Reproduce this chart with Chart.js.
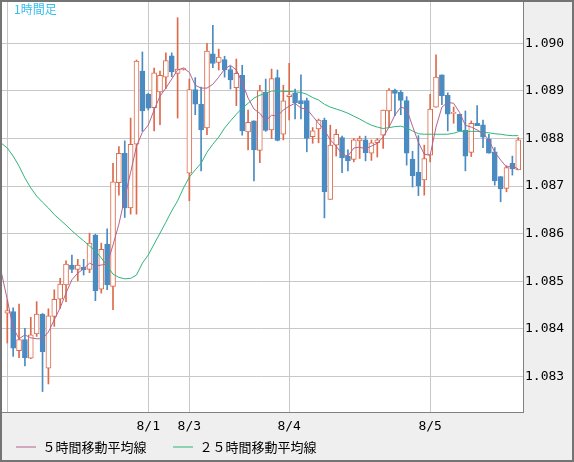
<!DOCTYPE html>
<html><head><meta charset="utf-8">
<script src="https://cdn.jsdelivr.net/npm/chart.js@4"></script>
<style>html,body{margin:0;padding:0;background:#efefef;}canvas{display:block;}</style>
</head><body>
<canvas id="c" width="574" height="462"></canvas>
<script>
const chartTitle = '1時間足';
const seriesNames = ['５時間移動平均線', '２５時間移動平均線'];
const dateTickIndex = [0, 24, 31, 48, 72];
const dateTickLabels = ['', '8/1', '8/3', '8/4', '8/5'];
const priceTicks = [1.083, 1.084, 1.085, 1.086, 1.087, 1.088, 1.089, 1.090];

const opens = [
1.08433,1.08436,1.08354,1.08377,1.08338,1.08389,1.08431,1.08317,1.08426,1.08462,
1.08492,1.08534,1.08525,1.08529,1.08525,1.08597,1.08483,1.08578,1.08489,1.08707,
1.08769,1.08654,1.08788,1.08942,1.08893,1.08865,1.08898,1.08929,1.08974,1.08937,
1.08946,1.08727,1.08903,1.08872,1.08822,1.08978,1.08960,1.08966,1.08945,1.08907,
1.08933,1.08814,1.08837,1.08775,1.08897,1.08818,1.08928,1.08809,1.08888,1.08895,
1.08880,1.08880,1.08804,1.08820,1.08839,1.08672,1.08786,1.08802,1.08763,1.08756,
1.08795,1.08797,1.08769,1.08791,1.08807,1.08858,1.08902,1.08897,1.08880,1.08757,
1.08729,1.08713,1.08765,1.08866,1.08934,1.08891,1.08853,1.08851,1.08817,1.08771,
1.08832,1.08829,1.08799,1.08772,1.08720,1.08695,1.08748,1.08734];
const highs = [
1.08461,1.08444,1.08452,1.08401,1.08424,1.08457,1.08432,1.08442,1.08482,1.08506,
1.08543,1.08555,1.08546,1.08546,1.08601,1.08599,1.08580,1.08610,1.08748,1.08783,
1.08795,1.08843,1.08965,1.08982,1.08895,1.08948,1.08942,1.08980,1.08980,1.09054,
1.08948,1.08925,1.08928,1.08908,1.09000,1.09038,1.08988,1.08973,1.08952,1.08967,
1.08954,1.08860,1.08837,1.08912,1.08925,1.08946,1.08944,1.08912,1.08958,1.08904,
1.08934,1.08885,1.08823,1.08841,1.08843,1.08828,1.08819,1.08805,1.08776,1.08800,
1.08805,1.08805,1.08797,1.08800,1.08860,1.08905,1.08904,1.08901,1.08888,1.08773,
1.08806,1.08786,1.08893,1.08976,1.08934,1.08896,1.08866,1.08851,1.08858,1.08837,
1.08869,1.08839,1.08809,1.08781,1.08720,1.08743,1.08763,1.08802];
const lows = [
1.08370,1.08342,1.08339,1.08322,1.08337,1.08384,1.08268,1.08284,1.08405,1.08443,
1.08457,1.08518,1.08501,1.08513,1.08518,1.08459,1.08475,1.08482,1.08440,1.08681,
1.08634,1.08641,1.08641,1.08815,1.08860,1.08816,1.08829,1.08905,1.08930,1.08843,
1.08944,1.08669,1.08850,1.08732,1.08808,1.08949,1.08944,1.08929,1.08904,1.08869,
1.08807,1.08776,1.08711,1.08749,1.08815,1.08800,1.08795,1.08797,1.08839,1.08841,
1.08841,1.08772,1.08790,1.08791,1.08633,1.08672,1.08763,1.08728,1.08732,1.08751,
1.08758,1.08753,1.08754,1.08761,1.08779,1.08825,1.08848,1.08850,1.08744,1.08698,
1.08680,1.08681,1.08751,1.08866,1.08871,1.08816,1.08832,1.08816,1.08732,1.08762,
1.08827,1.08781,1.08769,1.08702,1.08667,1.08688,1.08723,1.08734];
const closes = [
1.08438,1.08359,1.08377,1.08339,1.08387,1.08431,1.08352,1.08427,1.08462,1.08494,
1.08536,1.08525,1.08534,1.08524,1.08580,1.08480,1.08567,1.08492,1.08709,1.08769,
1.08654,1.08788,1.08963,1.08858,1.08864,1.08938,1.08933,1.08964,1.08940,1.08946,
1.08948,1.08903,1.08872,1.08818,1.08984,1.08958,1.08971,1.08944,1.08923,1.08937,
1.08816,1.08834,1.08776,1.08901,1.08817,1.08926,1.08796,1.08879,1.08892,1.08875,
1.08873,1.08800,1.08816,1.08839,1.08688,1.08786,1.08809,1.08759,1.08753,1.08797,
1.08800,1.08770,1.08791,1.08797,1.08860,1.08902,1.08895,1.08880,1.08769,1.08722,
1.08701,1.08758,1.08862,1.08929,1.08890,1.08851,1.08855,1.08816,1.08763,1.08832,
1.08827,1.08803,1.08769,1.08711,1.08694,1.08739,1.08736,1.08797];
// moving averages, first value is the hour before the first candle
const ma5 = [
1.08518,1.08461,1.08402,1.08379,1.08387,1.08381,1.08379,1.08379,1.08393,1.08419,
1.08444,1.08475,1.08503,1.08517,1.08526,1.08538,1.08532,1.08534,1.08536,1.08576,
1.08620,1.08675,1.08729,1.08784,1.08813,1.08828,1.08860,1.08889,1.08906,1.08925,
1.08944,1.08948,1.08939,1.08912,1.08906,1.08906,1.08914,1.08929,1.08946,1.08954,
1.08944,1.08918,1.08885,1.08862,1.08853,1.08837,1.08849,1.08847,1.08860,1.08868,
1.08874,1.08864,1.08862,1.08847,1.08832,1.08818,1.08797,1.08784,1.08767,1.08763,
1.08780,1.08782,1.08778,1.08784,1.08790,1.08803,1.08824,1.08849,1.08866,1.08862,
1.08826,1.08792,1.08767,1.08765,1.08824,1.08866,1.08876,1.08874,1.08855,1.08828,
1.08824,1.08818,1.08811,1.08797,1.08771,1.08755,1.08740,1.08742,1.08736];
const ma25 = [
1.08790,1.08780,1.08763,1.08742,1.08717,1.08696,1.08679,1.08666,1.08654,1.08640,
1.08629,1.08618,1.08606,1.08595,1.08585,1.08574,1.08564,1.08549,1.08532,1.08515,
1.08508,1.08505,1.08506,1.08513,1.08538,1.08555,1.08578,1.08601,1.08624,1.08648,
1.08669,1.08696,1.08719,1.08734,1.08748,1.08771,1.08788,1.08803,1.08822,1.08837,
1.08851,1.08864,1.08874,1.08885,1.08891,1.08895,1.08900,1.08900,1.08899,1.08899,
1.08898,1.08897,1.08893,1.08886,1.08881,1.08872,1.08866,1.08862,1.08858,1.08853,
1.08847,1.08841,1.08834,1.08828,1.08824,1.08821,1.08823,1.08825,1.08826,1.08822,
1.08816,1.08810,1.08809,1.08809,1.08809,1.08809,1.08809,1.08811,1.08815,1.08815,
1.08815,1.08815,1.08813,1.08812,1.08810,1.08809,1.08807,1.08806,1.08806];

const UP = '#dd6a4a', DOWN = '#4a8bc2', MA5C = '#b4648f', MA25C = '#2fb57a';
const idx = opens.map((_, i) => i);
const isUp = i => closes[i] >= opens[i];

const bgPlugin = {
  id: 'bgFrame',
  afterLayout(chart) {
    const lg = chart.legend;
    if (lg) { const h = lg.height; lg.top = chart.chartArea.bottom + 2; lg.bottom = lg.top + h; }
  },
  beforeDraw(chart) {
    const {ctx, chartArea: a} = chart;
    ctx.save();
    ctx.fillStyle = '#efefef';
    ctx.fillRect(0, 0, chart.width, chart.height);
    ctx.fillStyle = '#ffffff';
    ctx.fillRect(a.left, a.top, a.right - a.left, a.bottom - a.top);
    ctx.restore();
  },
  afterDraw(chart) {
    const {ctx} = chart;
    ctx.save();
    ctx.fillStyle = '#36bfee';
    ctx.font = "12px 'Noto Sans CJK JP'";
    ctx.textBaseline = 'top';
    ctx.fillText(chartTitle, 14, 3);
    ctx.strokeStyle = '#747474';
    ctx.lineWidth = 2;
    ctx.strokeRect(1, 1, chart.width - 2, chart.height - 2);
    ctx.restore();
  }
};

new Chart(document.getElementById('c'), {
  type: 'bar',
  data: {
    datasets: [
      { type: 'bar', label: 'wick', data: idx.map(i => ({x: i, y: [lows[i], highs[i]]})),
        backgroundColor: idx.map(i => isUp(i) ? UP : DOWN), borderWidth: 0,
        barThickness: 1, grouped: false, order: 3 },
      { type: 'bar', label: 'body', data: idx.map(i => ({x: i, y: [opens[i], closes[i]]})),
        backgroundColor: idx.map(i => isUp(i) ? '#ffffff' : DOWN),
        borderColor: idx.map(i => isUp(i) ? UP : DOWN), borderWidth: 1, borderSkipped: false,
        barThickness: 5, grouped: false, order: 2 },
      { type: 'line', label: seriesNames[0], data: ma5.map((v, k) => ({x: k - 1, y: v})),
        borderColor: MA5C, backgroundColor: MA5C, borderWidth: 1, pointRadius: 0, tension: 0, order: 1 },
      { type: 'line', label: seriesNames[1], data: ma25.map((v, k) => ({x: k - 1, y: v})),
        borderColor: MA25C, backgroundColor: MA25C, borderWidth: 1, pointRadius: 0, tension: 0, order: 1 }
    ]
  },
  options: {
    responsive: false,
    animation: false,
    layout: { padding: { left: -10.5, top: 2, right: 0, bottom: -23.5 } },
    scales: {
      x: {
        type: 'linear', min: -1.243, max: 87.81, offset: false,
        afterBuildTicks: s => { s.ticks = dateTickIndex.map(v => ({value: v})); },
        afterFit: s => { s.height = 24; s.paddingLeft = 0; s.paddingRight = 0; },
        ticks: { autoSkip: false, maxRotation: 0, padding: 7, color: '#000',
          font: { family: "'DejaVu Sans Mono'", size: 13 },
          callback: v => { const k = dateTickIndex.indexOf(v); return k >= 0 ? dateTickLabels[k] : ''; } },
        grid: { color: '#c8c8c8', lineWidth: 1, drawTicks: false, offset: false },
        border: { display: true, color: '#808080' }
      },
      y: {
        type: 'linear', position: 'right', min: 1.08225, max: 1.09087,
        afterBuildTicks: s => { s.ticks = priceTicks.map(v => ({value: v})); },
        afterFit: s => { s.width = 51; s.paddingTop = 0; s.paddingBottom = 0; },
        ticks: { padding: 2, color: '#000', font: { family: "'DejaVu Sans Mono'", size: 13 },
          callback: v => Number(v).toFixed(3) },
        grid: { color: '#c8c8c8', lineWidth: 1, drawTicks: false },
        border: { display: true, color: '#808080' }
      }
    },
    plugins: {
      tooltip: { enabled: false },
      legend: {
        position: 'bottom', align: 'start',
        labels: {
          padding: 26.5, boxWidth: 20, boxHeight: 1, color: '#111',
          font: { family: "'Noto Sans CJK JP'", size: 13 },
          generateLabels: chart => [2, 3].map(di => ({
            text: chart.data.datasets[di].label,
            fillStyle: chart.data.datasets[di].borderColor,
            strokeStyle: chart.data.datasets[di].borderColor,
            lineWidth: 0, hidden: false, datasetIndex: di
          }))
        }
      }
    }
  },
  plugins: [bgPlugin]
});
</script>
</body></html>
